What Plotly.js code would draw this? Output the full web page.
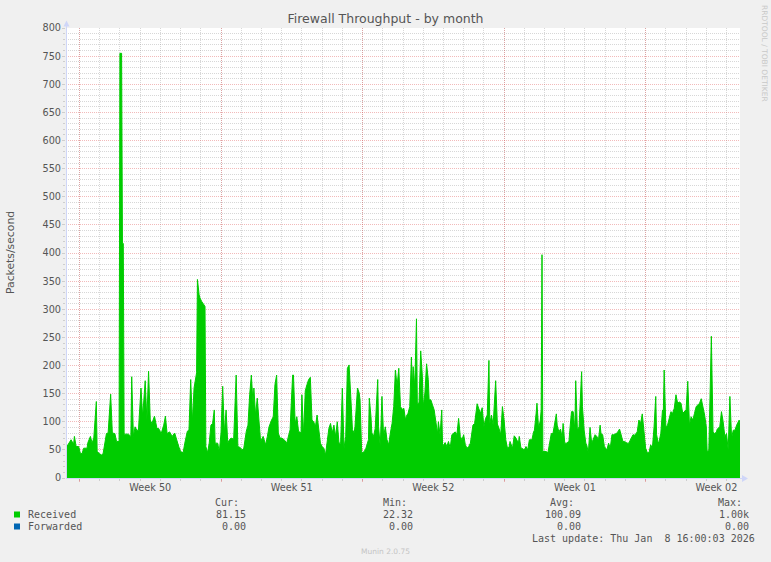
<!DOCTYPE html>
<html><head><meta charset="utf-8">
<script src="https://cdn.plot.ly/plotly-3.0.1.min.js"></script>
<style>html,body{margin:0;padding:0;background:#f0f0f0;overflow:hidden}#chart{width:771px;height:562px}</style>
</head><body><div id="chart"></div>
<script>
// ---- data ----
const windowStart = '2025-12-06T08:00:00Z';   // left edge of the month graph
const windowEnd   = '2026-01-08T16:00:00Z';   // last update
// hours since windowStart
const hours = [1,4,6,9,10,12,15,17,19,21,25,26,29,31,33,36,37,40,42,44,46,48,50,53,55,58,60,63,64,66,67,68,69,71,74,77,78,80,82,84,86,89,91,94,96,98,100,102,105,108,110,113,116,118,120,123,126,129,132,134,136,139,141,144,146,148,150,152,155,156,158,159,161,163,165,166,168,170,172,174,176,177,180,182,184,186,188,190,192,194,196,199,202,204,207,209,211,214,216,218,220,222,223,225,227,229,231,234,237,239,241,244,246,248,250,252,254,256,259,262,264,266,267,269,270,272,274,276,279,280,282,284,286,288,290,292,294,296,298,300,302,304,306,308,310,312,314,316,318,320,322,324,326,328,330,332,334,336,338,340,342,343,346,348,349,351,354,356,359,360,362,363,365,367,370,371,373,375,377,379,381,383,385,387,389,391,393,395,397,399,401,403,404,406,408,410,411,412,414,416,417,419,421,423,424,426,428,430,431,433,435,437,439,441,442,444,446,447,450,452,454,456,458,460,462,464,466,468,470,472,474,476,478,480,483,485,487,488,490,492,494,496,498,500,502,503,505,507,510,512,514,516,518,520,522,524,526,527,530,532,534,537,538,540,541,544,546,548,550,553,555,556,558,559,561,563,564,565,566,570,572,574,576,578,580,582,583,585,587,589,590,592,594,597,598,600,602,604,605,607,609,612,613,615,617,618,620,622,624,626,628,630,632,634,635,637,639,642,644,646,648,650,653,655,657,658,661,663,666,668,670,673,675,678,680,682,684,686,688,690,692,694,696,698,699,700,701,703,704,706,708,709,710,712,714,716,718,720,722,724,726,728,730,732,734,736,738,740,742,744,746,748,750,752,754,756,758,760,761,763,764,766,768,770,772,773,776,778,780,782,784,786,788,790,792,794,796,799,800];
// Received packets/second
const received = [56,62,68,60,74,56,56,44,43,53,53,63,74,62,71,136,47,43,41,43,62,79,80,149,80,79,65,65,755,755,417,417,78,78,78,74,180,74,91,85,85,160,109,173,103,190,103,97,110,88,88,79,94,110,79,82,74,80,62,55,47,45,62,83,86,175,100,160,187,353,326,320,314,308,305,56,45,62,94,97,121,62,62,47,80,163,80,121,62,68,71,69,183,56,54,50,53,83,94,148,183,133,160,112,142,103,65,74,59,74,91,103,109,166,183,80,71,71,68,62,74,86,120,183,183,97,109,83,80,148,77,155,166,175,179,103,100,91,112,91,62,56,53,41,68,88,97,80,94,74,100,62,62,160,53,74,195,201,145,86,80,91,160,151,139,44,47,53,68,142,109,80,74,88,175,91,56,145,74,91,68,59,80,97,127,192,163,195,127,122,124,103,110,115,127,215,160,198,163,283,133,133,226,180,127,151,203,175,139,139,130,121,100,79,100,77,121,56,63,56,65,53,77,79,82,77,106,74,68,77,59,53,56,62,94,97,121,132,123,115,125,91,106,112,209,96,112,94,173,96,88,77,127,103,68,53,56,65,53,75,71,62,74,53,53,50,56,50,68,68,82,85,115,133,87,103,121,397,47,47,45,62,79,79,97,114,94,82,87,71,97,62,62,65,85,118,118,86,173,85,91,189,127,85,62,59,45,90,62,71,77,74,68,94,79,77,56,50,62,53,77,77,79,82,87,82,65,65,62,62,69,77,76,82,103,97,114,79,53,45,45,59,53,91,119,145,77,62,65,79,121,118,192,91,94,106,118,115,124,148,133,135,133,115,118,121,172,94,109,103,115,127,130,133,141,127,112,91,47,50,109,252,82,79,82,87,91,118,100,74,79,50,145,71,85,85,94,103,97];
const weekStarts = ['2025-12-07','2025-12-14','2025-12-21','2025-12-28','2026-01-04'];
const weekMids   = ['2025-12-10 12:00','2025-12-17 12:00','2025-12-24 12:00','2025-12-31 12:00','2026-01-07 12:00'];
const weekLabels = ['Week 50','Week 51','Week 52','Week 01','Week 02'];
const seriesNames  = ['Received','Forwarded'];
const seriesColors = ['#00cc00','#0066b3'];
const statHeaders  = ['Cur:','Min:','Avg:','Max:'];
const statsReceived  = ['81.15','22.32','100.09','1.00k'];
const statsForwarded = ['0.00','0.00','0.00','0.00'];
const chartTitle = 'Firewall Throughput - by month';
const yTitle = 'Packets/second';
const lastUpdate = 'Last update: Thu Jan \u00a08 16:00:03 2026';
const version = 'Munin 2.0.75';
const watermark = 'RRDTOOL / TOBI OETIKER';

// ---- layout helpers (pixel -> paper) ----
const L = 66, R = 740, T = 28, B = 478, W = 771, H = 562;
const px = v => (v - L) / (R - L);
const py = v => (B - v) / (B - T);
const t0 = Date.parse(windowStart);
const xs = hours.map(h => t0 + h * 3600000);

const FONT = '#555555', MONO = 'DejaVu Sans Mono, monospace', SANS = 'DejaVu Sans, sans-serif';
const GRID = 'rgba(150,150,150,0.38)', MGRID = 'rgba(225,90,90,0.42)', AXIS = '#cfd6f8';

const traces = [
  {type:'scatter', mode:'lines', x: xs, y: received, name: seriesNames[0],
   line:{color: seriesColors[0], width: 1}, fill:'tozeroy', fillcolor: seriesColors[0], hoverinfo:'skip'},
  {type:'scatter', mode:'none', x: weekMids, y: weekMids.map(() => null), xaxis:'x2', yaxis:'y', showlegend:false, hoverinfo:'skip'}
];

const ann = [];
const txt = (text, x, y, xanchor, opts={}) => ann.push(Object.assign({
  text, xref:'paper', yref:'paper', x: px(x), y: py(y), xanchor, yanchor:'middle',
  showarrow:false, font:{family: MONO, size: 10, color: FONT}}, opts));

// y title
txt(yTitle, 10, 253, 'center', {textangle:-90, font:{family:SANS, size:10.8, color:FONT}});
// watermark
txt(watermark, 765, 53, 'center', {textangle:90, font:{family:SANS, size:7.5, color:'#c8c8c8'}});
// legend
const headerRight = [241, 409, 576, 744];
const valueRight  = [248, 415, 583, 751];
statHeaders.forEach((h, i) => txt(h, headerRight[i], 502.5, 'right'));
seriesNames.forEach((n, k) => txt(n, 26, 514.5 + 12*k, 'left'));
statsReceived.forEach((v, i) => txt(v, valueRight[i], 514.5, 'right'));
statsForwarded.forEach((v, i) => txt(v, valueRight[i], 526.5, 'right'));
txt(lastUpdate, 757, 538.5, 'right');
txt(version, 385, 551, 'center', {font:{family:SANS, size:7.5, color:'#c4c4c4'}});

const shapes = [];
seriesColors.forEach((c, k) => shapes.push({type:'rect', xref:'paper', yref:'paper',
  x0: px(14), x1: px(20), y0: py(517.5 + 12*k), y1: py(511.5 + 12*k), fillcolor: c, line:{width:0}}));
// axes with rrdtool-style arrows
shapes.push({type:'line', xref:'paper', yref:'paper', x0: px(66.5), x1: px(66.5), y0: py(478.5), y1: py(25), line:{color:AXIS, width:1}, layer:'above'});
shapes.push({type:'line', xref:'paper', yref:'paper', x0: px(66), x1: px(744), y0: py(478.5), y1: py(478.5), line:{color:AXIS, width:1}, layer:'above'});
const P = (a, b) => px(a) + ',' + py(b);
shapes.push({type:'path', xref:'paper', yref:'paper', path:`M${P(63.5,26.5)}L${P(69.5,26.5)}L${P(66.5,20.5)}Z`, fillcolor:AXIS, line:{width:0}, layer:'above'});
shapes.push({type:'path', xref:'paper', yref:'paper', path:`M${P(742,475)}L${P(742,482)}L${P(748,478.5)}Z`, fillcolor:AXIS, line:{width:0}, layer:'above'});

const layout = {
  width: W, height: H, margin:{l: L, r: W - R, t: T, b: H - B, pad: 0},
  paper_bgcolor:'#f0f0f0', plot_bgcolor:'#ffffff', showlegend:false,
  title:{text: chartTitle, x: 385.5/W, xanchor:'center', xref:'container', yref:'container', y: 1 - 18.5/H, yanchor:'middle',
         font:{family: SANS, size: 12.5, color: FONT}},
  xaxis:{type:'date', range:[windowStart.replace('Z',''), windowEnd.replace('Z','')], fixedrange:true,
         tickmode:'array', tickvals: weekStarts, ticktext: weekStarts.map(() => ''),
         showgrid:true, gridcolor: MGRID, griddash:'1px,1px', gridwidth:1,
         ticks:'outside', ticklen:3, tickcolor: MGRID, showline:false, zeroline:false,
         minor:{dtick: 86400000, tick0:'2025-12-07', showgrid:true, gridcolor: GRID, griddash:'1px,1px',
                ticks:'outside', ticklen:2, tickcolor: GRID}},
  xaxis2:{type:'date', overlaying:'x', anchor:'y', side:'bottom', range:[windowStart.replace('Z',''), windowEnd.replace('Z','')],
          tickmode:'array', tickvals: weekMids, ticktext: weekLabels, showgrid:false, ticks:'', showline:false, zeroline:false,
          ticklabelstandoff: 2, tickfont:{family: SANS, size: 9.7, color: FONT}},
  yaxis:{range:[0, 800], fixedrange:true, tickmode:'linear', tick0:0, dtick:50,
         showgrid:true, gridcolor: MGRID, griddash:'1px,1px', gridwidth:1,
         ticks:'outside', ticklen:3, tickcolor: GRID, ticklabelstandoff: -1,
         showline:false, zeroline:false, tickfont:{family: SANS, size: 9.7, color: FONT},
         minor:{dtick:10, tick0:0, showgrid:true, gridcolor: GRID, griddash:'1px,1px', ticks:'outside', ticklen:2, tickcolor: GRID}},
  annotations: ann, shapes: shapes
};
Plotly.newPlot('chart', traces, layout, {staticPlot:true, displayModeBar:false});
</script></body></html>
